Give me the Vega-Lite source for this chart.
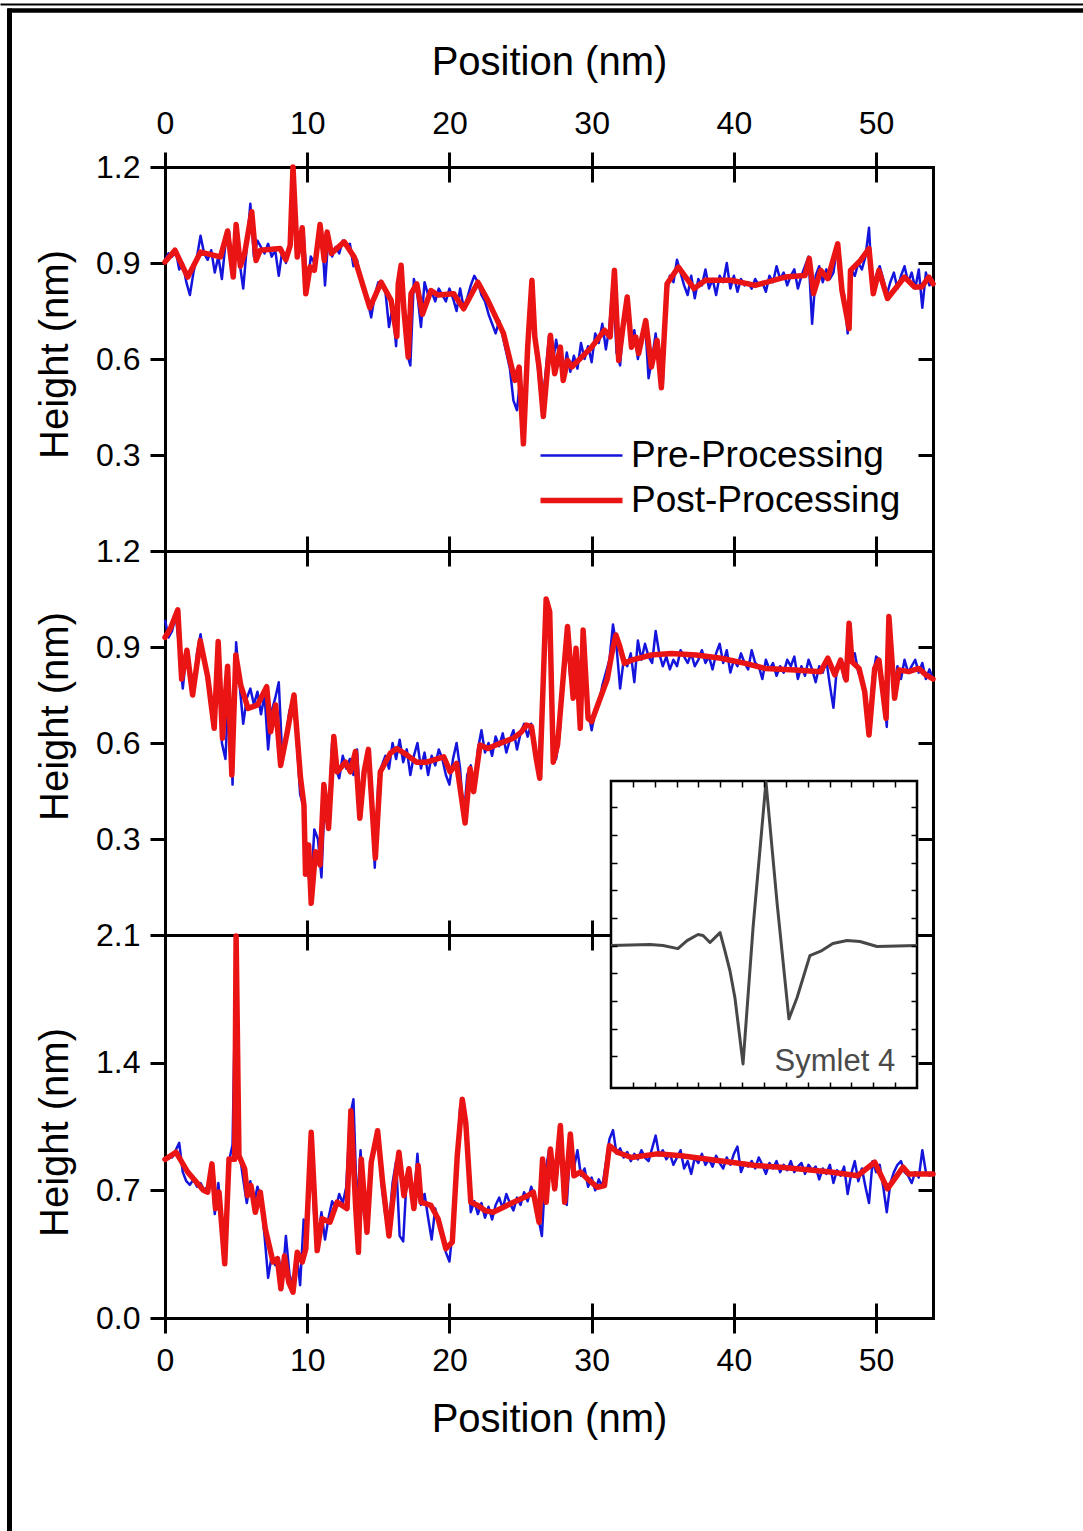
{
  "$schema": "https://vega.github.io/schema/vega-lite/v6.json",
  "autosize": {"type": "none"},
  "padding": {"left": 165, "top": 167, "right": 150, "bottom": 213},
  "width": 768,
  "height": 1151,
  "background": "white",
  "config": {
    "view": {"stroke": null},
    "font": "Liberation Sans",
    "axis": {
      "grid": false,
      "domainColor": "black",
      "domainWidth": 3,
      "domainCap": "square",
      "tickColor": "black",
      "tickWidth": 3,
      "labelFont": "Liberation Sans",
      "labelFontSize": 32,
      "labelColor": "black",
      "labelFlush": false,
      "labelOverlap": false,
      "titleFont": "Liberation Sans",
      "titleFontSize": 40,
      "titleFontWeight": "normal",
      "titleColor": "black"
    }
  },
  "datasets": {
    "topPre": [
      {"x":0,"y":0.91},{"x":0.25,"y":0.93},{"x":0.5,"y":0.92},{"x":0.75,"y":0.94},{"x":1,"y":0.88},{"x":1.25,"y":0.9},{"x":1.5,"y":0.84},{"x":1.75,"y":0.8},
      {"x":2,"y":0.87},{"x":2.25,"y":0.92},{"x":2.5,"y":0.985},{"x":2.75,"y":0.93},{"x":3,"y":0.91},{"x":3.25,"y":0.94},{"x":3.5,"y":0.87},{"x":3.75,"y":0.92},
      {"x":4,"y":0.85},{"x":4.25,"y":0.96},{"x":4.5,"y":1.0},{"x":4.75,"y":0.86},{"x":5,"y":1.02},{"x":5.25,"y":0.9},{"x":5.5,"y":0.82},{"x":5.75,"y":0.95},
      {"x":6,"y":1.085},{"x":6.25,"y":0.92},{"x":6.5,"y":0.97},{"x":6.75,"y":0.95},{"x":7,"y":0.93},{"x":7.25,"y":0.96},{"x":7.5,"y":0.92},{"x":7.75,"y":0.94},
      {"x":8,"y":0.86},{"x":8.25,"y":0.94},{"x":8.5,"y":0.9},{"x":8.75,"y":0.95},{"x":9,"y":1.19},{"x":9.25,"y":0.92},{"x":9.5,"y":0.97},{"x":9.75,"y":0.99},
      {"x":10,"y":0.82},{"x":10.25,"y":0.92},{"x":10.5,"y":0.9},{"x":10.75,"y":0.96},{"x":11,"y":1.01},{"x":11.25,"y":0.83},{"x":11.5,"y":0.99},{"x":11.75,"y":0.92},
      {"x":12,"y":0.95},{"x":12.25,"y":0.93},{"x":12.5,"y":0.97},{"x":12.75,"y":0.95},{"x":13,"y":0.96},{"x":13.25,"y":0.89},{"x":13.5,"y":0.91},{"x":13.75,"y":0.85},
      {"x":14,"y":0.82},{"x":14.25,"y":0.78},{"x":14.5,"y":0.73},{"x":14.75,"y":0.8},{"x":15,"y":0.84},{"x":15.25,"y":0.83},{"x":15.5,"y":0.81},{"x":15.75,"y":0.7},
      {"x":16,"y":0.76},{"x":16.25,"y":0.64},{"x":16.5,"y":0.88},{"x":16.75,"y":0.78},{"x":17,"y":0.62},{"x":17.25,"y":0.58},{"x":17.5,"y":0.85},{"x":17.75,"y":0.8},
      {"x":18,"y":0.7},{"x":18.25,"y":0.84},{"x":18.5,"y":0.8},{"x":18.75,"y":0.81},{"x":19,"y":0.78},{"x":19.25,"y":0.82},{"x":19.5,"y":0.8},{"x":19.75,"y":0.78},
      {"x":20,"y":0.82},{"x":20.25,"y":0.79},{"x":20.5,"y":0.75},{"x":20.75,"y":0.82},{"x":21,"y":0.76},{"x":21.25,"y":0.79},{"x":21.5,"y":0.83},{"x":21.75,"y":0.86},
      {"x":22,"y":0.84},{"x":22.25,"y":0.8},{"x":22.5,"y":0.78},{"x":22.75,"y":0.74},{"x":23,"y":0.71},{"x":23.25,"y":0.68},{"x":23.5,"y":0.72},{"x":23.75,"y":0.67},
      {"x":24,"y":0.62},{"x":24.25,"y":0.57},{"x":24.5,"y":0.47},{"x":24.75,"y":0.44},{"x":25,"y":0.55},{"x":25.25,"y":0.34},{"x":25.5,"y":0.62},{"x":25.75,"y":0.84},
      {"x":26,"y":0.66},{"x":26.25,"y":0.56},{"x":26.5,"y":0.45},{"x":26.75,"y":0.55},{"x":27,"y":0.67},{"x":27.25,"y":0.58},{"x":27.5,"y":0.66},{"x":27.75,"y":0.6},
      {"x":28,"y":0.54},{"x":28.25,"y":0.62},{"x":28.5,"y":0.56},{"x":28.75,"y":0.61},{"x":29,"y":0.57},{"x":29.25,"y":0.65},{"x":29.5,"y":0.6},{"x":29.75,"y":0.64},
      {"x":30,"y":0.59},{"x":30.25,"y":0.68},{"x":30.5,"y":0.65},{"x":30.75,"y":0.71},{"x":31,"y":0.63},{"x":31.25,"y":0.7},{"x":31.5,"y":0.85},{"x":31.75,"y":0.62},
      {"x":32,"y":0.58},{"x":32.25,"y":0.72},{"x":32.5,"y":0.78},{"x":32.75,"y":0.64},{"x":33,"y":0.69},{"x":33.25,"y":0.6},{"x":33.5,"y":0.66},{"x":33.75,"y":0.72},
      {"x":34,"y":0.54},{"x":34.25,"y":0.6},{"x":34.5,"y":0.68},{"x":34.75,"y":0.57},{"x":35,"y":0.52},{"x":35.25,"y":0.8},{"x":35.5,"y":0.86},{"x":35.75,"y":0.84},
      {"x":36,"y":0.91},{"x":36.25,"y":0.87},{"x":36.5,"y":0.83},{"x":36.75,"y":0.8},{"x":37,"y":0.86},{"x":37.25,"y":0.79},{"x":37.5,"y":0.85},{"x":37.75,"y":0.83},
      {"x":38,"y":0.88},{"x":38.25,"y":0.82},{"x":38.5,"y":0.85},{"x":38.75,"y":0.8},{"x":39,"y":0.86},{"x":39.25,"y":0.84},{"x":39.5,"y":0.9},{"x":39.75,"y":0.82},
      {"x":40,"y":0.86},{"x":40.25,"y":0.81},{"x":40.5,"y":0.85},{"x":40.75,"y":0.83},{"x":41,"y":0.84},{"x":41.25,"y":0.82},{"x":41.5,"y":0.85},{"x":41.75,"y":0.83},
      {"x":42,"y":0.84},{"x":42.25,"y":0.81},{"x":42.5,"y":0.86},{"x":42.75,"y":0.84},{"x":43,"y":0.89},{"x":43.25,"y":0.85},{"x":43.5,"y":0.87},{"x":43.75,"y":0.83},
      {"x":44,"y":0.86},{"x":44.25,"y":0.88},{"x":44.5,"y":0.82},{"x":44.75,"y":0.86},{"x":45,"y":0.89},{"x":45.25,"y":0.92},{"x":45.5,"y":0.71},{"x":45.75,"y":0.86},
      {"x":46,"y":0.89},{"x":46.25,"y":0.84},{"x":46.5,"y":0.88},{"x":46.75,"y":0.85},{"x":47,"y":0.87},{"x":47.25,"y":0.95},{"x":47.5,"y":0.83},{"x":47.75,"y":0.8},
      {"x":48,"y":0.68},{"x":48.25,"y":0.88},{"x":48.5,"y":0.86},{"x":48.75,"y":0.9},{"x":49,"y":0.88},{"x":49.25,"y":0.92},{"x":49.5,"y":1.01},{"x":49.75,"y":0.81},
      {"x":50,"y":0.86},{"x":50.25,"y":0.89},{"x":50.5,"y":0.85},{"x":50.75,"y":0.8},{"x":51,"y":0.84},{"x":51.25,"y":0.87},{"x":51.5,"y":0.82},{"x":51.75,"y":0.86},
      {"x":52,"y":0.89},{"x":52.25,"y":0.84},{"x":52.5,"y":0.87},{"x":52.75,"y":0.82},{"x":53,"y":0.88},{"x":53.25,"y":0.76},{"x":53.5,"y":0.87},{"x":53.75,"y":0.83},
      {"x":54,"y":0.85}
    ],
    "topPost": [
      {"x":0,"y":0.903},{"x":0.7,"y":0.94},{"x":1.6,"y":0.856},{"x":2.5,"y":0.934},{"x":3.9,"y":0.919},{"x":4.4,"y":1.0},{"x":4.8,"y":0.856},{"x":5.0,"y":1.02},
      {"x":5.3,"y":0.89},{"x":5.6,"y":0.93},{"x":6.1,"y":1.06},{"x":6.4,"y":0.908},{"x":6.7,"y":0.94},{"x":8.1,"y":0.945},{"x":8.5,"y":0.91},{"x":8.8,"y":0.955},
      {"x":9.0,"y":1.2},{"x":9.3,"y":0.919},{"x":9.65,"y":1.01},{"x":9.9,"y":0.804},{"x":10.2,"y":0.888},{"x":10.5,"y":0.877},{"x":10.9,"y":1.02},{"x":11.2,"y":0.908},
      {"x":11.4,"y":0.997},{"x":11.7,"y":0.93},{"x":12.6,"y":0.966},{"x":13.3,"y":0.919},{"x":14.4,"y":0.76},{"x":15.2,"y":0.84},{"x":15.9,"y":0.783},{"x":16.3,"y":0.67},
      {"x":16.4,"y":0.835},{"x":16.6,"y":0.893},{"x":16.8,"y":0.752},{"x":17.1,"y":0.606},{"x":17.3,"y":0.804},{"x":17.7,"y":0.835},{"x":18.1,"y":0.74},{"x":18.7,"y":0.814},
      {"x":19.2,"y":0.8},{"x":20.3,"y":0.804},{"x":21.0,"y":0.757},{"x":22.0,"y":0.84},{"x":22.7,"y":0.783},{"x":23.8,"y":0.68},{"x":24.6,"y":0.533},{"x":24.9,"y":0.575},
      {"x":25.2,"y":0.335},{"x":25.5,"y":0.637},{"x":25.8,"y":0.846},{"x":26.0,"y":0.67},{"x":26.3,"y":0.575},{"x":26.6,"y":0.42},{"x":27.1,"y":0.674},{"x":27.4,"y":0.554},
      {"x":27.8,"y":0.637},{"x":28.0,"y":0.533},{"x":28.3,"y":0.596},{"x":28.6,"y":0.575},{"x":29.3,"y":0.606},{"x":30.0,"y":0.637},{"x":30.9,"y":0.69},{"x":31.3,"y":0.669},
      {"x":31.6,"y":0.877},{"x":31.9,"y":0.596},{"x":32.2,"y":0.7},{"x":32.5,"y":0.794},{"x":32.8,"y":0.637},{"x":33.1,"y":0.669},{"x":33.3,"y":0.617},{"x":33.8,"y":0.72},
      {"x":34.2,"y":0.575},{"x":34.6,"y":0.658},{"x":34.9,"y":0.51},{"x":35.3,"y":0.835},{"x":36.1,"y":0.887},{"x":37.2,"y":0.82},{"x":38.0,"y":0.846},{"x":39.8,"y":0.846},
      {"x":41.5,"y":0.83},{"x":43.6,"y":0.856},{"x":45.0,"y":0.861},{"x":45.3,"y":0.914},{"x":45.6,"y":0.804},{"x":46.1,"y":0.877},{"x":46.6,"y":0.851},{"x":47.3,"y":0.96},
      {"x":47.6,"y":0.814},{"x":48.1,"y":0.695},{"x":48.2,"y":0.877},{"x":48.9,"y":0.908},{"x":49.5,"y":0.945},{"x":49.8,"y":0.804},{"x":50.2,"y":0.877},{"x":50.8,"y":0.789},
      {"x":52.0,"y":0.856},{"x":52.7,"y":0.825},{"x":53.2,"y":0.825},{"x":53.7,"y":0.856},{"x":54,"y":0.835}
    ],
    "midPre": [
      {"x":0,"y":0.985},{"x":0.25,"y":0.93},{"x":0.5,"y":0.95},{"x":0.75,"y":1.0},{"x":1,"y":0.9},{"x":1.25,"y":0.77},{"x":1.5,"y":0.88},{"x":1.75,"y":0.82},
      {"x":2,"y":0.76},{"x":2.25,"y":0.88},{"x":2.5,"y":0.94},{"x":2.75,"y":0.86},{"x":3,"y":0.8},{"x":3.25,"y":0.72},{"x":3.5,"y":0.66},{"x":3.75,"y":0.9},
      {"x":4,"y":0.6},{"x":4.25,"y":0.55},{"x":4.5,"y":0.8},{"x":4.75,"y":0.47},{"x":5,"y":0.915},{"x":5.25,"y":0.78},{"x":5.5,"y":0.66},{"x":5.75,"y":0.74},
      {"x":6,"y":0.77},{"x":6.25,"y":0.72},{"x":6.5,"y":0.76},{"x":6.75,"y":0.69},{"x":7,"y":0.75},{"x":7.25,"y":0.58},{"x":7.5,"y":0.7},{"x":7.75,"y":0.74},
      {"x":8,"y":0.79},{"x":8.25,"y":0.55},{"x":8.5,"y":0.62},{"x":8.75,"y":0.7},{"x":9,"y":0.74},{"x":9.25,"y":0.62},{"x":9.5,"y":0.44},{"x":9.75,"y":0.4},
      {"x":10,"y":0.22},{"x":10.25,"y":0.13},{"x":10.5,"y":0.33},{"x":10.75,"y":0.3},{"x":11,"y":0.18},{"x":11.25,"y":0.45},{"x":11.5,"y":0.36},{"x":11.75,"y":0.6},
      {"x":12,"y":0.52},{"x":12.25,"y":0.49},{"x":12.5,"y":0.56},{"x":12.75,"y":0.52},{"x":13,"y":0.55},{"x":13.25,"y":0.5},{"x":13.5,"y":0.58},{"x":13.75,"y":0.4},
      {"x":14,"y":0.5},{"x":14.25,"y":0.57},{"x":14.5,"y":0.45},{"x":14.75,"y":0.21},{"x":15,"y":0.48},{"x":15.25,"y":0.53},{"x":15.5,"y":0.56},{"x":15.75,"y":0.52},
      {"x":16,"y":0.6},{"x":16.25,"y":0.55},{"x":16.5,"y":0.61},{"x":16.75,"y":0.54},{"x":17,"y":0.58},{"x":17.25,"y":0.5},{"x":17.5,"y":0.56},{"x":17.75,"y":0.6},
      {"x":18,"y":0.52},{"x":18.25,"y":0.57},{"x":18.5,"y":0.5},{"x":18.75,"y":0.56},{"x":19,"y":0.53},{"x":19.25,"y":0.58},{"x":19.5,"y":0.55},{"x":19.75,"y":0.5},
      {"x":20,"y":0.47},{"x":20.25,"y":0.55},{"x":20.5,"y":0.6},{"x":20.75,"y":0.52},{"x":21,"y":0.36},{"x":21.25,"y":0.5},{"x":21.5,"y":0.53},{"x":21.75,"y":0.46},
      {"x":22,"y":0.58},{"x":22.25,"y":0.64},{"x":22.5,"y":0.57},{"x":22.75,"y":0.6},{"x":23,"y":0.56},{"x":23.25,"y":0.62},{"x":23.5,"y":0.59},{"x":23.75,"y":0.63},
      {"x":24,"y":0.57},{"x":24.25,"y":0.61},{"x":24.5,"y":0.64},{"x":24.75,"y":0.58},{"x":25,"y":0.63},{"x":25.25,"y":0.66},{"x":25.5,"y":0.62},{"x":25.75,"y":0.66},
      {"x":26,"y":0.57},{"x":26.25,"y":0.52},{"x":26.5,"y":0.72},{"x":26.75,"y":1.02},{"x":27,"y":1.0},{"x":27.25,"y":0.62},{"x":27.5,"y":0.55},{"x":27.75,"y":0.63},
      {"x":28,"y":0.8},{"x":28.25,"y":0.95},{"x":28.5,"y":0.8},{"x":28.75,"y":0.76},{"x":29,"y":0.88},{"x":29.25,"y":0.66},{"x":29.5,"y":0.93},{"x":29.75,"y":0.7},
      {"x":30,"y":0.64},{"x":30.25,"y":0.7},{"x":30.5,"y":0.72},{"x":30.75,"y":0.78},{"x":31,"y":0.82},{"x":31.25,"y":0.86},{"x":31.5,"y":0.97},{"x":31.75,"y":0.9},
      {"x":32,"y":0.77},{"x":32.25,"y":0.86},{"x":32.5,"y":0.84},{"x":32.75,"y":0.88},{"x":33,"y":0.79},{"x":33.25,"y":0.92},{"x":33.5,"y":0.86},{"x":33.75,"y":0.91},
      {"x":34,"y":0.87},{"x":34.25,"y":0.85},{"x":34.5,"y":0.95},{"x":34.75,"y":0.88},{"x":35,"y":0.84},{"x":35.25,"y":0.87},{"x":35.5,"y":0.83},{"x":35.75,"y":0.86},
      {"x":36,"y":0.84},{"x":36.25,"y":0.89},{"x":36.5,"y":0.87},{"x":36.75,"y":0.85},{"x":37,"y":0.88},{"x":37.25,"y":0.84},{"x":37.5,"y":0.86},{"x":37.75,"y":0.89},
      {"x":38,"y":0.85},{"x":38.25,"y":0.87},{"x":38.5,"y":0.83},{"x":38.75,"y":0.88},{"x":39,"y":0.91},{"x":39.25,"y":0.85},{"x":39.5,"y":0.89},{"x":39.75,"y":0.82},
      {"x":40,"y":0.86},{"x":40.25,"y":0.84},{"x":40.5,"y":0.88},{"x":40.75,"y":0.85},{"x":41,"y":0.83},{"x":41.25,"y":0.89},{"x":41.5,"y":0.85},{"x":41.75,"y":0.84},
      {"x":42,"y":0.8},{"x":42.25,"y":0.86},{"x":42.5,"y":0.83},{"x":42.75,"y":0.85},{"x":43,"y":0.81},{"x":43.25,"y":0.84},{"x":43.5,"y":0.82},{"x":43.75,"y":0.86},
      {"x":44,"y":0.84},{"x":44.25,"y":0.87},{"x":44.5,"y":0.8},{"x":44.75,"y":0.84},{"x":45,"y":0.81},{"x":45.25,"y":0.86},{"x":45.5,"y":0.83},{"x":45.75,"y":0.79},
      {"x":46,"y":0.84},{"x":46.25,"y":0.82},{"x":46.5,"y":0.86},{"x":46.75,"y":0.78},{"x":47,"y":0.71},{"x":47.25,"y":0.84},{"x":47.5,"y":0.86},{"x":47.75,"y":0.8},
      {"x":48,"y":0.9},{"x":48.25,"y":0.86},{"x":48.5,"y":0.88},{"x":48.75,"y":0.82},{"x":49,"y":0.8},{"x":49.25,"y":0.74},{"x":49.5,"y":0.63},{"x":49.75,"y":0.8},
      {"x":50,"y":0.87},{"x":50.25,"y":0.86},{"x":50.5,"y":0.78},{"x":50.75,"y":0.65},{"x":51,"y":0.96},{"x":51.25,"y":0.76},{"x":51.5,"y":0.84},{"x":51.75,"y":0.8},
      {"x":52,"y":0.86},{"x":52.25,"y":0.82},{"x":52.5,"y":0.84},{"x":52.75,"y":0.86},{"x":53,"y":0.82},{"x":53.25,"y":0.85},{"x":53.5,"y":0.8},{"x":53.75,"y":0.83},
      {"x":54,"y":0.8}
    ],
    "midPost": [
      {"x":0,"y":0.93},{"x":0.14,"y":0.94},{"x":0.4,"y":0.96},{"x":0.9,"y":1.016},{"x":1.17,"y":0.8},{"x":1.54,"y":0.89},{"x":1.94,"y":0.75},{"x":2.48,"y":0.92},
      {"x":3.0,"y":0.807},{"x":3.46,"y":0.646},{"x":3.74,"y":0.917},{"x":4.04,"y":0.615},{"x":4.4,"y":0.84},{"x":4.7,"y":0.5},{"x":4.98,"y":0.875},{"x":5.33,"y":0.78},
      {"x":5.84,"y":0.708},{"x":6.5,"y":0.719},{"x":7.15,"y":0.776},{"x":7.43,"y":0.635},{"x":7.78,"y":0.719},{"x":8.13,"y":0.53},{"x":8.6,"y":0.635},{"x":9.07,"y":0.75},
      {"x":9.53,"y":0.49},{"x":9.77,"y":0.406},{"x":9.88,"y":0.19},{"x":10.1,"y":0.281},{"x":10.28,"y":0.099},{"x":10.58,"y":0.26},{"x":10.9,"y":0.219},{"x":11.17,"y":0.47},
      {"x":11.5,"y":0.333},{"x":11.87,"y":0.62},{"x":12.1,"y":0.51},{"x":12.7,"y":0.54},{"x":13.04,"y":0.51},{"x":13.39,"y":0.573},{"x":13.7,"y":0.365},{"x":14.0,"y":0.51},
      {"x":14.3,"y":0.58},{"x":14.79,"y":0.24},{"x":15.14,"y":0.51},{"x":15.84,"y":0.568},{"x":16.3,"y":0.583},{"x":17.0,"y":0.563},{"x":17.7,"y":0.54},{"x":18.4,"y":0.54},
      {"x":19.6,"y":0.557},{"x":20.05,"y":0.51},{"x":20.5,"y":0.536},{"x":21.1,"y":0.35},{"x":21.45,"y":0.52},{"x":21.7,"y":0.448},{"x":22.15,"y":0.594},{"x":22.7,"y":0.583},
      {"x":23.55,"y":0.599},{"x":24.5,"y":0.615},{"x":25.07,"y":0.635},{"x":25.4,"y":0.656},{"x":25.77,"y":0.651},{"x":26.1,"y":0.552},{"x":26.35,"y":0.49},{"x":26.6,"y":0.8},
      {"x":26.8,"y":1.05},{"x":27.05,"y":1.01},{"x":27.3,"y":0.54},{"x":27.6,"y":0.594},{"x":28.3,"y":0.964},{"x":28.7,"y":0.74},{"x":28.9,"y":0.896},{"x":29.2,"y":0.646},
      {"x":29.4,"y":0.953},{"x":29.75,"y":0.677},{"x":30.0,"y":0.667},{"x":30.6,"y":0.74},{"x":31.1,"y":0.8},{"x":31.4,"y":0.875},{"x":31.7,"y":0.9375},{"x":31.95,"y":0.906},
      {"x":32.3,"y":0.849},{"x":32.8,"y":0.859},{"x":34.2,"y":0.875},{"x":35.6,"y":0.88},{"x":37.35,"y":0.875},{"x":39.1,"y":0.865},{"x":40.8,"y":0.849},{"x":42.2,"y":0.833},
      {"x":44.3,"y":0.828},{"x":46.1,"y":0.823},{"x":46.6,"y":0.865},{"x":47.1,"y":0.813},{"x":47.5,"y":0.859},{"x":47.9,"y":0.797},{"x":48.1,"y":0.974},{"x":48.3,"y":0.854},
      {"x":48.8,"y":0.833},{"x":49.2,"y":0.76},{"x":49.5,"y":0.625},{"x":49.9,"y":0.833},{"x":50.2,"y":0.859},{"x":50.7,"y":0.677},{"x":50.9,"y":0.995},{"x":51.3,"y":0.74},
      {"x":51.6,"y":0.828},{"x":52.3,"y":0.823},{"x":53.0,"y":0.833},{"x":53.5,"y":0.813},{"x":54,"y":0.8}
    ],
    "botPre": [
      {"x":0,"y":0.86},{"x":0.25,"y":0.89},{"x":0.5,"y":0.88},{"x":0.75,"y":0.92},{"x":1,"y":0.96},{"x":1.25,"y":0.8},{"x":1.5,"y":0.75},{"x":1.75,"y":0.73},
      {"x":2,"y":0.76},{"x":2.25,"y":0.72},{"x":2.5,"y":0.74},{"x":2.75,"y":0.7},{"x":3,"y":0.72},{"x":3.25,"y":0.84},{"x":3.5,"y":0.57},{"x":3.75,"y":0.74},
      {"x":4,"y":0.55},{"x":4.25,"y":0.32},{"x":4.5,"y":0.86},{"x":4.75,"y":0.95},{"x":5,"y":2.05},{"x":5.25,"y":0.9},{"x":5.5,"y":0.76},{"x":5.75,"y":0.63},
      {"x":6,"y":0.75},{"x":6.25,"y":0.62},{"x":6.5,"y":0.72},{"x":6.75,"y":0.66},{"x":7,"y":0.45},{"x":7.25,"y":0.22},{"x":7.5,"y":0.34},{"x":7.75,"y":0.29},
      {"x":8,"y":0.33},{"x":8.25,"y":0.2},{"x":8.5,"y":0.45},{"x":8.75,"y":0.24},{"x":9,"y":0.17},{"x":9.25,"y":0.36},{"x":9.5,"y":0.18},{"x":9.75,"y":0.54},
      {"x":10,"y":0.5},{"x":10.25,"y":0.96},{"x":10.5,"y":0.55},{"x":10.75,"y":0.43},{"x":11,"y":0.58},{"x":11.25,"y":0.43},{"x":11.5,"y":0.55},{"x":11.75,"y":0.64},
      {"x":12,"y":0.6},{"x":12.25,"y":0.68},{"x":12.5,"y":0.63},{"x":12.75,"y":0.72},{"x":13,"y":1.1},{"x":13.25,"y":1.2},{"x":13.5,"y":0.6},{"x":13.75,"y":0.92},
      {"x":14,"y":0.56},{"x":14.25,"y":0.5},{"x":14.5,"y":0.82},{"x":14.75,"y":0.95},{"x":15,"y":1.0},{"x":15.25,"y":0.72},{"x":15.5,"y":0.56},{"x":15.75,"y":0.51},
      {"x":16,"y":0.74},{"x":16.25,"y":0.86},{"x":16.5,"y":0.45},{"x":16.75,"y":0.42},{"x":17,"y":0.78},{"x":17.25,"y":0.72},{"x":17.5,"y":0.64},{"x":17.75,"y":0.9},
      {"x":18,"y":0.62},{"x":18.25,"y":0.68},{"x":18.5,"y":0.55},{"x":18.75,"y":0.43},{"x":19,"y":0.6},{"x":19.25,"y":0.52},{"x":19.5,"y":0.45},{"x":19.75,"y":0.36},
      {"x":20,"y":0.31},{"x":20.25,"y":0.5},{"x":20.5,"y":0.85},{"x":20.75,"y":1.15},{"x":21,"y":1.18},{"x":21.25,"y":0.9},{"x":21.5,"y":0.58},{"x":21.75,"y":0.64},
      {"x":22,"y":0.57},{"x":22.25,"y":0.63},{"x":22.5,"y":0.55},{"x":22.75,"y":0.61},{"x":23,"y":0.54},{"x":23.25,"y":0.62},{"x":23.5,"y":0.66},{"x":23.75,"y":0.6},
      {"x":24,"y":0.68},{"x":24.25,"y":0.63},{"x":24.5,"y":0.59},{"x":24.75,"y":0.66},{"x":25,"y":0.62},{"x":25.25,"y":0.69},{"x":25.5,"y":0.64},{"x":25.75,"y":0.72},
      {"x":26,"y":0.66},{"x":26.25,"y":0.55},{"x":26.5,"y":0.45},{"x":26.75,"y":0.8},{"x":27,"y":0.92},{"x":27.25,"y":0.75},{"x":27.5,"y":0.72},{"x":27.75,"y":1.0},
      {"x":28,"y":0.68},{"x":28.25,"y":0.62},{"x":28.5,"y":0.95},{"x":28.75,"y":0.82},{"x":29,"y":0.92},{"x":29.25,"y":0.78},{"x":29.5,"y":0.82},{"x":29.75,"y":0.72},
      {"x":30,"y":0.77},{"x":30.25,"y":0.7},{"x":30.5,"y":0.76},{"x":30.75,"y":0.72},{"x":31,"y":0.85},{"x":31.25,"y":0.98},{"x":31.5,"y":1.03},{"x":31.75,"y":0.9},
      {"x":32,"y":0.93},{"x":32.25,"y":0.88},{"x":32.5,"y":0.91},{"x":32.75,"y":0.86},{"x":33,"y":0.9},{"x":33.25,"y":0.87},{"x":33.5,"y":0.92},{"x":33.75,"y":0.88},
      {"x":34,"y":0.86},{"x":34.25,"y":0.93},{"x":34.5,"y":1.0},{"x":34.75,"y":0.89},{"x":35,"y":0.92},{"x":35.25,"y":0.87},{"x":35.5,"y":0.9},{"x":35.75,"y":0.84},
      {"x":36,"y":0.88},{"x":36.25,"y":0.92},{"x":36.5,"y":0.82},{"x":36.75,"y":0.86},{"x":37,"y":0.79},{"x":37.25,"y":0.88},{"x":37.5,"y":0.85},{"x":37.75,"y":0.9},
      {"x":38,"y":0.84},{"x":38.25,"y":0.87},{"x":38.5,"y":0.83},{"x":38.75,"y":0.89},{"x":39,"y":0.85},{"x":39.25,"y":0.82},{"x":39.5,"y":0.88},{"x":39.75,"y":0.84},
      {"x":40,"y":0.9},{"x":40.25,"y":0.94},{"x":40.5,"y":0.8},{"x":40.75,"y":0.85},{"x":41,"y":0.83},{"x":41.25,"y":0.86},{"x":41.5,"y":0.82},{"x":41.75,"y":0.88},
      {"x":42,"y":0.84},{"x":42.25,"y":0.79},{"x":42.5,"y":0.85},{"x":42.75,"y":0.82},{"x":43,"y":0.86},{"x":43.25,"y":0.8},{"x":43.5,"y":0.84},{"x":43.75,"y":0.81},
      {"x":44,"y":0.86},{"x":44.25,"y":0.8},{"x":44.5,"y":0.83},{"x":44.75,"y":0.85},{"x":45,"y":0.79},{"x":45.25,"y":0.84},{"x":45.5,"y":0.81},{"x":45.75,"y":0.83},
      {"x":46,"y":0.76},{"x":46.25,"y":0.82},{"x":46.5,"y":0.79},{"x":46.75,"y":0.84},{"x":47,"y":0.74},{"x":47.25,"y":0.81},{"x":47.5,"y":0.78},{"x":47.75,"y":0.83},
      {"x":48,"y":0.68},{"x":48.25,"y":0.79},{"x":48.5,"y":0.86},{"x":48.75,"y":0.75},{"x":49,"y":0.82},{"x":49.25,"y":0.72},{"x":49.5,"y":0.63},{"x":49.75,"y":0.86},
      {"x":50,"y":0.8},{"x":50.25,"y":0.84},{"x":50.5,"y":0.72},{"x":50.75,"y":0.58},{"x":51,"y":0.74},{"x":51.25,"y":0.8},{"x":51.5,"y":0.84},{"x":51.75,"y":0.86},
      {"x":52,"y":0.8},{"x":52.25,"y":0.78},{"x":52.5,"y":0.74},{"x":52.75,"y":0.8},{"x":53,"y":0.77},{"x":53.25,"y":0.92},{"x":53.5,"y":0.8},{"x":53.75,"y":0.78},
      {"x":54,"y":0.79}
    ],
    "botPost": [
      {"x":0,"y":0.87},{"x":0.24,"y":0.881},{"x":0.77,"y":0.909},{"x":1.6,"y":0.8},{"x":2.7,"y":0.7},{"x":3.0,"y":0.69},{"x":3.3,"y":0.845},{"x":3.55,"y":0.6},
      {"x":3.8,"y":0.69},{"x":4.2,"y":0.297},{"x":4.5,"y":0.872},{"x":4.9,"y":0.87},{"x":5.0,"y":2.095},{"x":5.2,"y":0.89},{"x":5.6,"y":0.818},{"x":5.8,"y":0.67},
      {"x":6.05,"y":0.726},{"x":6.35,"y":0.58},{"x":6.7,"y":0.69},{"x":7.05,"y":0.49},{"x":7.6,"y":0.307},{"x":7.9,"y":0.325},{"x":8.15,"y":0.16},{"x":8.4,"y":0.34},
      {"x":8.7,"y":0.197},{"x":9.0,"y":0.142},{"x":9.3,"y":0.361},{"x":9.65,"y":0.307},{"x":9.9,"y":0.38},{"x":10.28,"y":1.018},{"x":10.7,"y":0.37},{"x":11.05,"y":0.544},
      {"x":11.6,"y":0.525},{"x":12.1,"y":0.635},{"x":12.8,"y":0.6},{"x":13.07,"y":1.137},{"x":13.4,"y":0.617},{"x":13.6,"y":0.36},{"x":13.8,"y":0.872},{"x":14.2,"y":0.47},
      {"x":14.5,"y":0.854},{"x":14.95,"y":1.027},{"x":15.3,"y":0.745},{"x":15.75,"y":0.45},{"x":16.1,"y":0.708},{"x":16.45,"y":0.909},{"x":16.8,"y":0.67},{"x":17.15,"y":0.818},
      {"x":17.5,"y":0.6},{"x":17.8,"y":0.836},{"x":18.0,"y":0.635},{"x":18.7,"y":0.617},{"x":19.2,"y":0.544},{"x":19.75,"y":0.38},{"x":20.2,"y":0.416},{"x":20.55,"y":0.89},
      {"x":20.9,"y":1.2},{"x":21.15,"y":1.07},{"x":21.5,"y":0.635},{"x":22.0,"y":0.617},{"x":22.5,"y":0.589},{"x":23.07,"y":0.58},{"x":23.8,"y":0.607},{"x":24.5,"y":0.635},
      {"x":25.5,"y":0.67},{"x":25.9,"y":0.69},{"x":26.3,"y":0.525},{"x":26.55,"y":0.872},{"x":26.8,"y":0.635},{"x":27.1,"y":0.927},{"x":27.4,"y":0.708},{"x":27.8,"y":1.055},
      {"x":28.1,"y":0.635},{"x":28.5,"y":1.009},{"x":28.75,"y":0.78},{"x":29.2,"y":0.8},{"x":29.7,"y":0.763},{"x":30.4,"y":0.717},{"x":30.9,"y":0.726},{"x":31.25,"y":0.945},
      {"x":31.8,"y":0.909},{"x":32.8,"y":0.88},{"x":34.6,"y":0.9},{"x":36.3,"y":0.89},{"x":38.05,"y":0.872},{"x":39.8,"y":0.854},{"x":41.5,"y":0.836},{"x":43.3,"y":0.827},
      {"x":45.0,"y":0.814},{"x":46.8,"y":0.8},{"x":48.7,"y":0.78},{"x":49.9,"y":0.854},{"x":50.8,"y":0.708},{"x":51.9,"y":0.827},{"x":52.3,"y":0.79},{"x":53.7,"y":0.79},
      {"x":54,"y":0.79}
    ],
    "symlet": [
      {"x":0,"y":0},{"x":1.78,"y":0.007},{"x":2.38,"y":0},{"x":3.06,"y":-0.022},{"x":3.48,"y":0.036},{"x":3.98,"y":0.08},{"x":4.21,"y":0.073},{"x":4.53,"y":0.022},
      {"x":4.99,"y":0.094},{"x":5.21,"y":-0.036},{"x":5.44,"y":-0.181},{"x":5.67,"y":-0.377},{"x":6.04,"y":-0.856},{"x":6.5,"y":0.131},{"x":7.09,"y":1.183},{"x":7.6,"y":0.305},
      {"x":8.14,"y":-0.53},{"x":8.51,"y":-0.377},{"x":9.1,"y":-0.073},{"x":9.65,"y":-0.036},{"x":10.15,"y":0.015},{"x":10.8,"y":0.036},{"x":11.39,"y":0.029},{"x":12.17,"y":-0.007},
      {"x":14,"y":0}
    ],
    "insetFrame": [{"x0":0,"x1":14,"y0":-1.03,"y1":1.19}],
    "insetLabel": [{"x":13.0,"y":-0.905,"label":"Symlet 4"}]
  },
  "resolve": {
    "scale": {"x": "independent", "y": "independent"},
    "axis": {"x": "independent", "y": "independent"}
  },
  "layer": [
    {
      "encoding": {
        "x": {"field": "x", "type": "quantitative", "scale": {"domain": [0, 54], "nice": false, "zero": false},
          "axis": {"orient": "top", "values": [0, 10, 20, 30, 40, 50], "format": "d", "tickSize": 15, "labelPadding": 12, "title": "Position (nm)", "titlePadding": 25}},
        "y": {"field": "y", "type": "quantitative", "scale": {"domain": [0, 1.2], "range": [384, 0], "nice": false, "zero": false},
          "axis": {"orient": "left", "values": [0.3, 0.6, 0.9, 1.2], "format": ".1f", "tickSize": 15, "labelPadding": 10, "title": "Height (nm)", "titlePadding": 20, "titleY": 187}}
      },
      "layer": [
        {
          "data": {"name": "topPre"},
          "mark": {"type": "line", "strokeWidth": 2.5, "strokeJoin": "round"},
          "encoding": {
            "color": {"datum": "Pre-Processing", "type": "nominal",
              "scale": {"domain": ["Pre-Processing", "Post-Processing"], "range": ["#1414dc", "#ea1414"]},
              "legend": {"orient": "none", "legendX": 398, "legendY": 270, "title": null, "padding": 0, "rowPadding": 7,
                "labelFont": "Liberation Sans", "labelFontSize": 37, "labelColor": "black", "labelLimit": 400, "labelOffset": 31,
                "symbolType": "M-4.1,0H4.1", "symbolSize": 400, "symbolStrokeWidth": 4, "symbolFillColor": "transparent",
                "encode": {"symbols": {"update": {"strokeWidth": {"signal": "datum.value === 'Pre-Processing' ? 2.5 : 5.5"}}}}}}
          }
        },
        {
          "data": {"name": "topPost"},
          "mark": {"type": "line", "strokeWidth": 5.5, "strokeJoin": "round", "strokeCap": "round"},
          "encoding": {"color": {"datum": "Post-Processing", "type": "nominal"}}
        }
      ]
    },
    {
      "data": {"name": "topPost"},
      "mark": {"type": "line", "opacity": 0},
      "encoding": {
        "x": {"field": "x", "type": "quantitative", "scale": {"domain": [0, 54], "nice": false, "zero": false},
          "axis": {"orient": "bottom", "offset": -1151, "values": [0, 10, 20, 30, 40, 50], "tickSize": 15, "labels": false, "domain": false, "title": null}},
        "y": {"field": "y", "type": "quantitative", "scale": {"domain": [0, 1.2], "range": [384, 0], "nice": false, "zero": false},
          "axis": {"orient": "left", "offset": -768, "values": [0.3, 0.6, 0.9], "tickSize": 15, "labels": false, "title": null}}
      }
    },
    {
      "encoding": {
        "x": {"field": "x", "type": "quantitative", "scale": {"domain": [0, 54], "nice": false, "zero": false},
          "axis": {"orient": "top", "offset": -384, "values": [0, 10, 20, 30, 40, 50], "tickSize": 15, "labels": false, "title": null}},
        "y": {"field": "y", "type": "quantitative", "scale": {"domain": [0, 1.2], "range": [768, 384], "nice": false, "zero": false},
          "axis": {"orient": "left", "values": [0.3, 0.6, 0.9, 1.2], "format": ".1f", "tickSize": 15, "labelPadding": 10, "title": "Height (nm)", "titlePadding": 20, "titleY": 549}}
      },
      "layer": [
        {
          "data": {"name": "midPre"},
          "mark": {"type": "line", "strokeWidth": 2.5, "strokeJoin": "round"},
          "encoding": {"color": {"datum": "Pre-Processing", "type": "nominal"}}
        },
        {
          "data": {"name": "midPost"},
          "mark": {"type": "line", "strokeWidth": 5.5, "strokeJoin": "round", "strokeCap": "round"},
          "encoding": {"color": {"datum": "Post-Processing", "type": "nominal"}}
        }
      ]
    },
    {
      "data": {"name": "midPost"},
      "mark": {"type": "line", "opacity": 0},
      "encoding": {
        "x": {"field": "x", "type": "quantitative", "scale": {"domain": [0, 54], "nice": false, "zero": false},
          "axis": {"orient": "bottom", "offset": -767, "values": [0, 10, 20, 30, 40, 50], "tickSize": 15, "labels": false, "domain": false, "title": null}},
        "y": {"field": "y", "type": "quantitative", "scale": {"domain": [0, 1.2], "range": [768, 384], "nice": false, "zero": false},
          "axis": {"orient": "left", "offset": -768, "values": [0.3, 0.6, 0.9], "tickSize": 15, "labels": false, "title": null}}
      }
    },
    {
      "encoding": {
        "x": {"field": "x", "type": "quantitative", "scale": {"domain": [0, 54], "nice": false, "zero": false},
          "axis": {"orient": "top", "offset": -768, "values": [0, 10, 20, 30, 40, 50], "tickSize": 15, "labels": false, "title": null}},
        "y": {"field": "y", "type": "quantitative", "scale": {"domain": [0, 2.1], "range": [1151, 768], "nice": false, "zero": false},
          "axis": {"orient": "left", "values": [0, 0.7, 1.4, 2.1], "format": ".1f", "tickSize": 15, "labelPadding": 10, "title": "Height (nm)", "titlePadding": 20, "titleY": 965}}
      },
      "layer": [
        {
          "data": {"name": "botPre"},
          "mark": {"type": "line", "strokeWidth": 2.5, "strokeJoin": "round"},
          "encoding": {"color": {"datum": "Pre-Processing", "type": "nominal"}}
        },
        {
          "data": {"name": "botPost"},
          "mark": {"type": "line", "strokeWidth": 5.5, "strokeJoin": "round", "strokeCap": "round"},
          "encoding": {"color": {"datum": "Post-Processing", "type": "nominal"}}
        }
      ]
    },
    {
      "data": {"name": "botPost"},
      "mark": {"type": "line", "opacity": 0},
      "encoding": {
        "x": {"field": "x", "type": "quantitative", "scale": {"domain": [0, 54], "nice": false, "zero": false},
          "axis": {"orient": "bottom", "offset": -383, "values": [0, 10, 20, 30, 40, 50], "tickSize": 15, "labels": false, "domain": false, "title": null}},
        "y": {"field": "y", "type": "quantitative", "scale": {"domain": [0, 2.1], "range": [1151, 768], "nice": false, "zero": false},
          "axis": {"orient": "left", "offset": -768, "values": [0.7, 1.4], "tickSize": 15, "labels": false, "title": null}}
      }
    },
    {
      "data": {"name": "botPost"},
      "mark": {"type": "line", "opacity": 0},
      "encoding": {
        "x": {"field": "x", "type": "quantitative", "scale": {"domain": [0, 54], "nice": false, "zero": false},
          "axis": {"orient": "bottom", "values": [0, 10, 20, 30, 40, 50], "format": "d", "tickSize": 15, "labelPadding": 12, "title": "Position (nm)", "titlePadding": 23}},
        "y": {"field": "y", "type": "quantitative", "scale": {"domain": [0, 2.1], "range": [1151, 768], "nice": false, "zero": false}, "axis": null}
      }
    },
    {
      "data": {"name": "botPost"},
      "mark": {"type": "line", "opacity": 0},
      "encoding": {
        "x": {"field": "x", "type": "quantitative", "scale": {"domain": [0, 54], "nice": false, "zero": false},
          "axis": {"orient": "top", "offset": -1151, "values": [0, 10, 20, 30, 40, 50], "tickSize": 15, "labels": false, "domain": false, "title": null}},
        "y": {"field": "y", "type": "quantitative", "scale": {"domain": [0, 2.1], "range": [1151, 768], "nice": false, "zero": false}, "axis": null}
      }
    },
    {
      "data": {"name": "topPost"},
      "mark": {"type": "line", "opacity": 0},
      "encoding": {
        "x": {"field": "x", "type": "quantitative", "scale": {"domain": [0, 54], "range": [-158, 918], "nice": false, "zero": false},
          "axis": {"orient": "top", "offset": 157, "domainWidth": 4.5, "domainCap": "butt", "ticks": false, "labels": false, "title": null}},
        "y": {"field": "y", "type": "quantitative", "scale": {"domain": [0, 1.2], "range": [1364, -159], "nice": false, "zero": false},
          "axis": {"orient": "left", "offset": 156, "domainWidth": 5, "domainCap": "butt", "ticks": false, "labels": false, "title": null}}
      }
    },
    {
      "data": {"name": "topPost"},
      "mark": {"type": "line", "opacity": 0},
      "encoding": {
        "x": {"field": "x", "type": "quantitative", "scale": {"domain": [0, 54], "range": [-165, 918], "nice": false, "zero": false},
          "axis": {"orient": "top", "offset": 163, "domainWidth": 2, "domainCap": "butt", "ticks": false, "labels": false, "title": null}},
        "y": {"field": "y", "type": "quantitative", "scale": {"domain": [0, 1.2], "range": [384, 0], "nice": false, "zero": false}, "axis": null}
      }
    },
    {
      "data": {"name": "insetFrame"},
      "mark": {"type": "rect", "fill": "white", "stroke": "black", "strokeWidth": 2.5},
      "encoding": {
        "x": {"field": "x0", "type": "quantitative", "scale": {"domain": [0, 14], "range": [446, 752], "nice": false, "zero": false},
          "axis": {"orient": "bottom", "offset": -537, "values": [1, 2, 3, 4, 5, 6, 7, 8, 9, 10, 11, 12, 13], "tickSize": 6, "tickWidth": 1.5, "labels": false, "domain": false, "title": null, "zindex": 1}},
        "x2": {"field": "x1"},
        "y": {"field": "y0", "type": "quantitative", "scale": {"domain": [-1.03, 1.19], "range": [921, 614], "nice": false, "zero": false},
          "axis": {"orient": "right", "offset": -322, "values": [-0.8, -0.6, -0.4, -0.2, 0, 0.2, 0.4, 0.6, 0.8, 1.0], "tickSize": 6, "tickWidth": 1.5, "labels": false, "domain": false, "title": null, "zindex": 1}},
        "y2": {"field": "y1"}
      }
    },
    {
      "data": {"name": "symlet"},
      "mark": {"type": "line", "color": "#474747", "strokeWidth": 3, "strokeJoin": "round"},
      "encoding": {
        "x": {"field": "x", "type": "quantitative", "scale": {"domain": [0, 14], "range": [446, 752], "nice": false, "zero": false},
          "axis": {"orient": "top", "offset": -921, "values": [1, 2, 3, 4, 5, 6, 7, 8, 9, 10, 11, 12, 13], "tickSize": 6, "tickWidth": 1.5, "labels": false, "domain": false, "title": null, "zindex": 1}},
        "y": {"field": "y", "type": "quantitative", "scale": {"domain": [-1.03, 1.19], "range": [921, 614], "nice": false, "zero": false},
          "axis": {"orient": "left", "offset": -752, "values": [-0.8, -0.6, -0.4, -0.2, 0, 0.2, 0.4, 0.6, 0.8, 1.0], "tickSize": 6, "tickWidth": 1.5, "labels": false, "domain": false, "title": null, "zindex": 1}}
      }
    },
    {
      "data": {"name": "insetLabel"},
      "mark": {"type": "text", "align": "right", "baseline": "alphabetic", "font": "Liberation Sans", "fontSize": 31, "color": "#4a4a4a"},
      "encoding": {
        "x": {"field": "x", "type": "quantitative", "scale": {"domain": [0, 14], "range": [446, 752], "nice": false, "zero": false}, "axis": null},
        "y": {"field": "y", "type": "quantitative", "scale": {"domain": [-1.03, 1.19], "range": [921, 614], "nice": false, "zero": false}, "axis": null},
        "text": {"field": "label"}
      }
    }
  ]
}
